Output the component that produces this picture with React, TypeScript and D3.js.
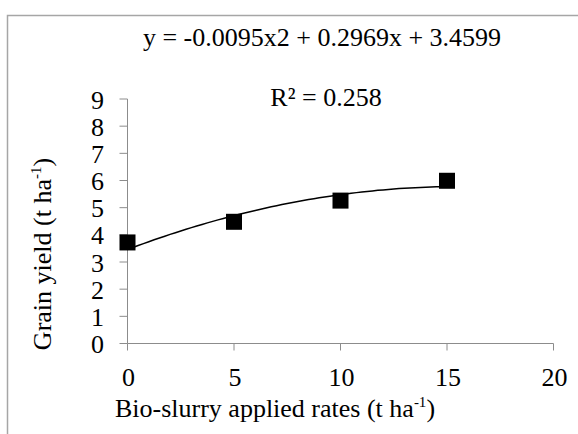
import React from "react";
import * as d3 from "d3";

// Bio-slurry application rate (t ha-1) and measured grain yield (t ha-1)
const rates = [0, 5, 10, 15];
const yields = [3.72, 4.48, 5.26, 5.99];

// Polynomial (order 2) trendline: a*x^2 + b*x + c
const trendCoef = [-0.0095, 0.2969, 3.4599];
const rSquared = 0.258;

const xTicks = [0, 5, 10, 15, 20];
const yTicks = [0, 1, 2, 3, 4, 5, 6, 7, 8, 9];

const W = 578;
const H = 434;
const AXIS = "#8c8c8c";
const textStyle = { fontFamily: "'Liberation Serif'" };

export default function App() {
  const x = d3.scaleLinear().domain([0, 20]).range([127.5, 553.5]);
  const y = d3.scaleLinear().domain([0, 9]).range([343.5, 99]);

  const [a, b, c] = trendCoef;
  const trendX = d3.range(0, 15.0001, 0.25);
  const line = d3
    .line<number>()
    .x((d) => x(d))
    .y((d) => y(a * d * d + b * d + c))
    .curve(d3.curveLinear);

  const marker = 16;

  return (
    <svg width={W} height={H} style={{ position: "absolute", left: 0, top: 0, background: "#fff" }}>
      {/* chart area border */}
      <rect x={7.5} y={15.5} width={700} height={600} fill="#fff" stroke="#a6a6a6" strokeWidth={1.5} />

      {/* equation and R² labels */}
      <text x={322} y={46} fontSize={26} textAnchor="middle" fill="#000" style={textStyle}>
        y = -0.0095x2 + 0.2969x + 3.4599
      </text>
      <text x={326} y={106} fontSize={26} textAnchor="middle" fill="#000" style={textStyle}>
        {`R² = ${rSquared}`}
      </text>

      {/* y axis */}
      <line x1={x(0)} x2={x(0)} y1={y(9)} y2={y(0)} stroke={AXIS} strokeWidth={1} />
      {yTicks.map((t) => (
        <g key={`y${t}`}>
          <line x1={x(0) - 8} x2={x(0)} y1={y(t)} y2={y(t)} stroke={AXIS} strokeWidth={1} />
          <text x={104} y={y(t) + 9.5} fontSize={26} textAnchor="end" fill="#000" style={textStyle}>
            {t}
          </text>
        </g>
      ))}

      {/* x axis */}
      <line x1={x(0)} x2={x(20)} y1={y(0)} y2={y(0)} stroke={AXIS} strokeWidth={1} />
      {xTicks.map((t) => (
        <g key={`x${t}`}>
          <line x1={x(t)} x2={x(t)} y1={y(0)} y2={y(0) + 7} stroke={AXIS} strokeWidth={1} />
          <text x={x(t) + 1} y={386} fontSize={26} textAnchor="middle" fill="#000" style={textStyle}>
            {t}
          </text>
        </g>
      ))}

      {/* axis titles */}
      <text x={275} y={417} fontSize={26} textAnchor="middle" fill="#000" style={textStyle}>
        Bio-slurry applied rates (t ha
        <tspan fontSize={15} dy={-10}>-1</tspan>
        <tspan dy={10}>)</tspan>
      </text>
      <text
        transform={`translate(51, 254) rotate(-90)`}
        fontSize={26}
        textAnchor="middle"
        fill="#000"
        style={textStyle}
      >
        Grain yield (t ha
        <tspan fontSize={15} dy={-10}>-1</tspan>
        <tspan dy={10}>)</tspan>
      </text>

      {/* trendline */}
      <path d={line(trendX) ?? ""} fill="none" stroke="#000" strokeWidth={1.5} />

      {/* observations */}
      {rates.map((r, i) => (
        <rect
          key={`p${r}`}
          x={x(r) - marker / 2}
          y={y(yields[i]) - marker / 2}
          width={marker}
          height={marker}
          fill="#000"
        />
      ))}
    </svg>
  );
}
